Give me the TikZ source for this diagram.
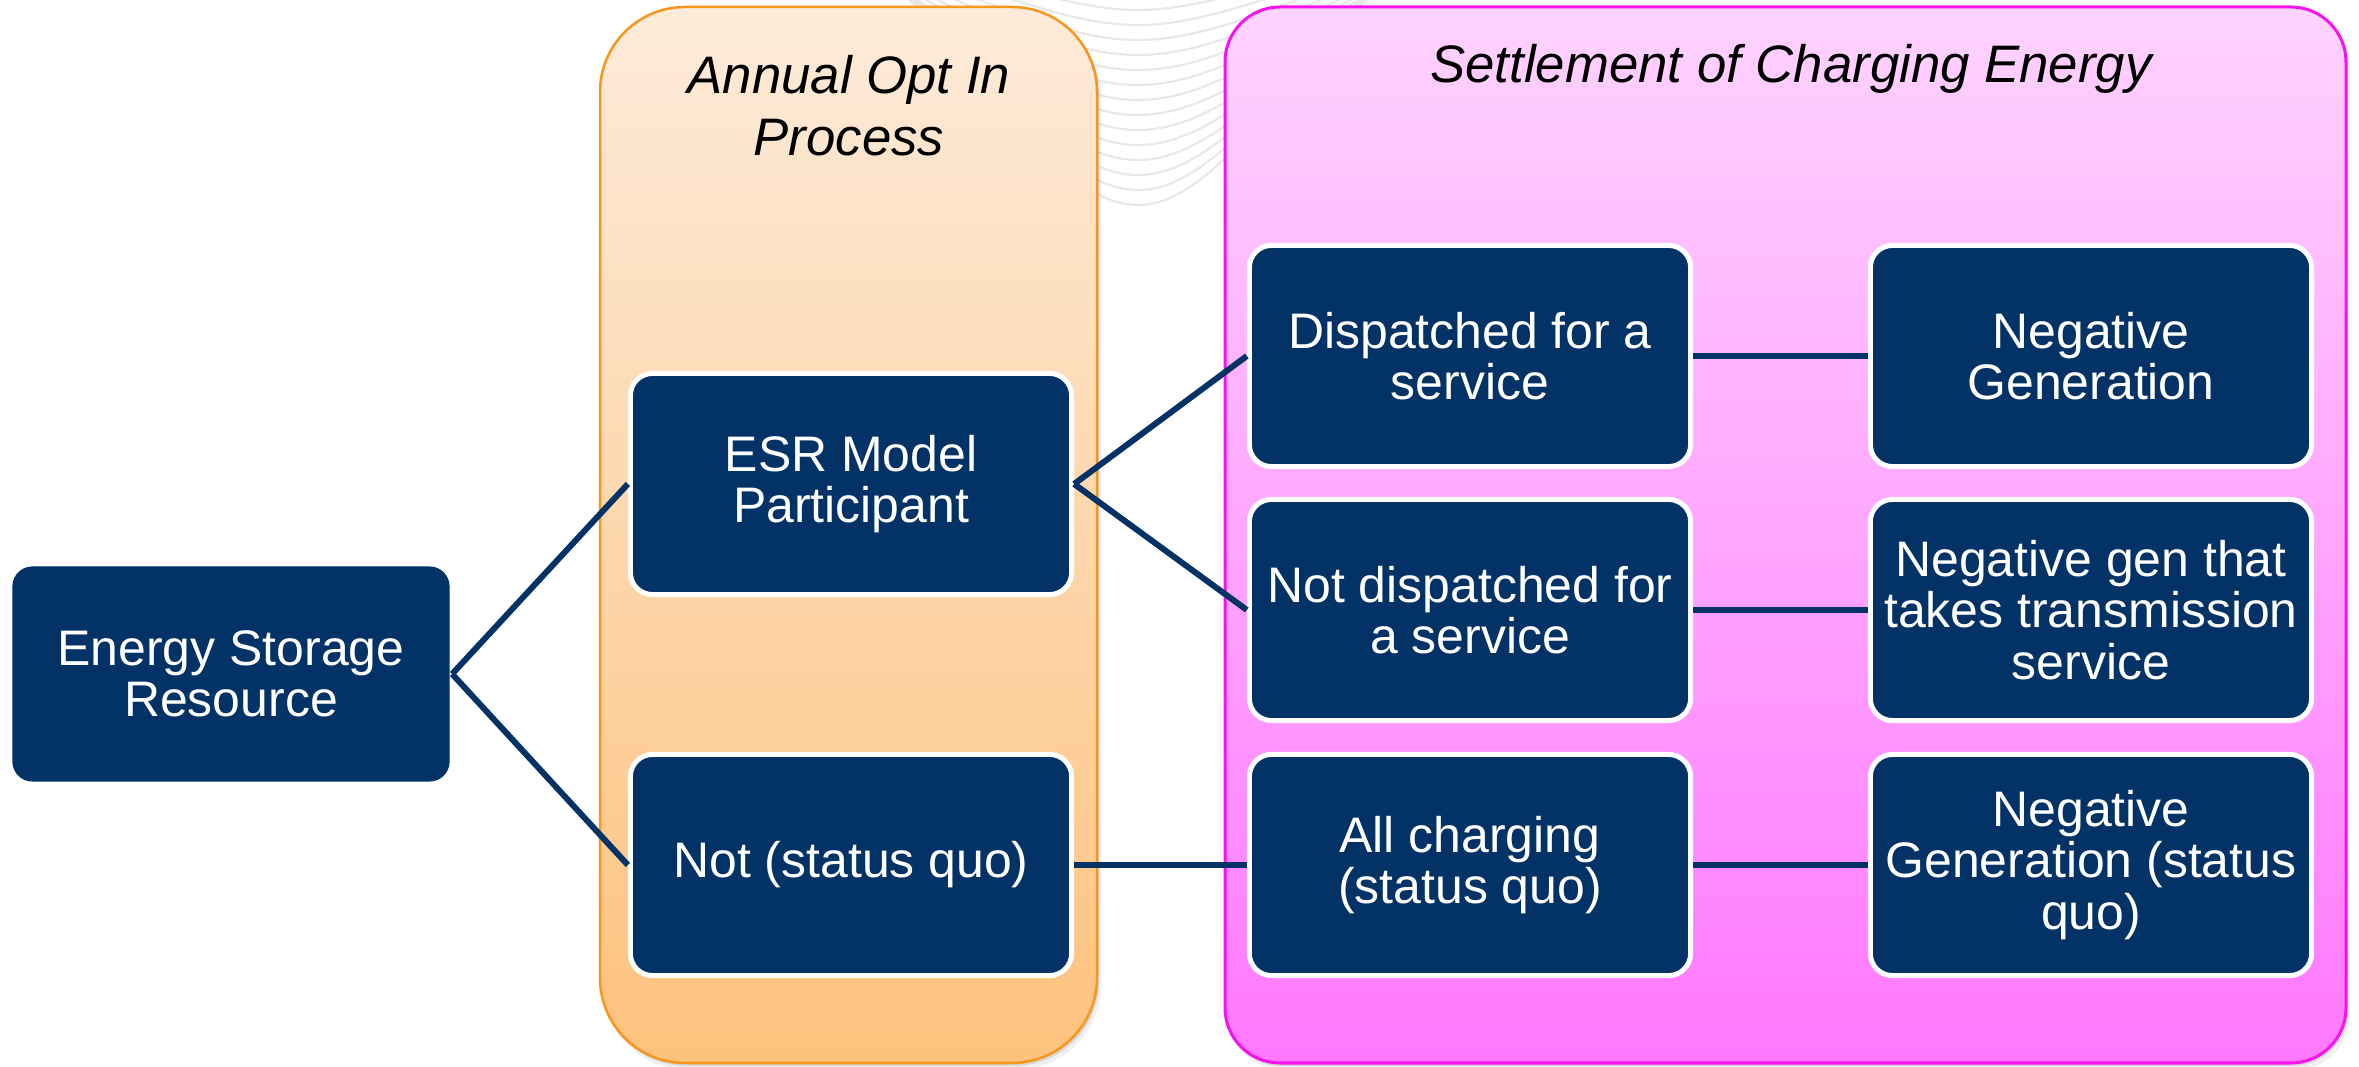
\documentclass[tikz,border=0pt]{standalone}
\usepackage{fontspec}
\setmainfont{Liberation Sans}
\definecolor{navy}{RGB}{3,51,102}
\definecolor{orangeTop}{HTML}{FDEBDA}
\definecolor{orangeBot}{HTML}{FDC27D}
\definecolor{orangeLine}{HTML}{F7961A}
\definecolor{pinkTop}{HTML}{FFD3FF}
\definecolor{pinkBot}{HTML}{FF78FF}
\definecolor{pinkLine}{HTML}{F812F0}
\definecolor{arcgray}{HTML}{E8E8E8}
\begin{document}
\begin{tikzpicture}[x=0.01cm,y=-0.01cm,
  box/.style={draw=white, line width=0.05cm, fill=navy, rounded corners=0.22cm,
    minimum width=4.41cm, minimum height=2.21cm, inner sep=0pt, align=center,
    text=white, font=\fontsize{14.2}{14.6}\selectfont},
  rootbox/.style={box, draw=none, minimum width=4.37cm, minimum height=2.15cm, rounded corners=0.2cm},
  link/.style={draw=navy, line width=1.7pt},
  title/.style={font=\fontsize{15}{17.6}\selectfont\itshape, align=center, text=black, inner sep=0pt},
  bgarc/.style={draw=arcgray, line width=0.6pt}]
\useasboundingbox (0,0) rectangle (2359,1067);
\clip (0,0) rectangle (2359,1067);
\fill[white] (0,0) rectangle (2359,1067);

% faint background arcs
\foreach \i in {0,...,13} {
  \pgfmathsetmacro{\yy}{10+15*\i}
  \pgfmathsetmacro{\kk}{0.0012+0.0029*(\yy/210)^2}
  \pgfmathsetmacro{\D}{min(420,sqrt(\yy+25)/sqrt(\kk))}
  \pgfmathsetmacro{\ye}{\yy-\kk*\D*\D}
  \pgfmathsetmacro{\yc}{(4*\yy-\ye)/3}
  \draw[bgarc] (1138-\D,\ye) .. controls (1138,\yc) .. (1138+\D,\ye);
}

% shadows
\fill[black,opacity=0.06,rounded corners=0.85cm] (603,12) rectangle (1101,1070);
\fill[black,opacity=0.10,rounded corners=0.85cm] (601,9) rectangle (1099,1066);
\fill[black,opacity=0.06,rounded corners=0.55cm] (1228,12) rectangle (2350,1070);
\fill[black,opacity=0.10,rounded corners=0.55cm] (1226,9) rectangle (2348,1066);

% containers
\path[rounded corners=0.85cm, top color=orangeTop, bottom color=orangeBot,
  draw=orangeLine, line width=0.025cm] (600,7) rectangle (1097,1063);
\path[rounded corners=0.55cm, top color=pinkTop, bottom color=pinkBot,
  draw=pinkLine, line width=0.03cm] (1225,7) rectangle (2346,1063);

% titles
\node[title] (ttl1) at (849,106) {Annual Opt In\\Process};
\node[title] (ttl2) at (1791,69) {Settlement of Charging Energy};

% boxes
\node[rootbox] (esr) at (231,674) {Energy Storage\\Resource};
\node[box] (esrm) at (851,484) {ESR Model\\Participant};
\node[box] (notsq) at (851,865) {Not (status quo)};
\node[box] (disp) at (1470,356) {Dispatched for a\\service};
\node[box] (notdisp) at (1470,610) {Not dispatched for\\a service};
\node[box] (allch) at (1470,865) {All charging\\(status quo)};
\node[box] (neg1) at (2091,356) {Negative\\Generation};
\node[box] (neg2) at (2091,610) {Negative gen that\\takes transmission\\service};
\node[box] (neg3) at (2091,865) {Negative\\Generation (status\\quo)};

% connectors
\draw[link] (esr.east) -- (esrm.west);
\draw[link] (esr.east) -- (notsq.west);
\draw[link] (esrm.east) -- (disp.west);
\draw[link] (esrm.east) -- (notdisp.west);
\draw[link] (notsq.east) -- (allch.west);
\draw[link] (disp.east) -- (neg1.west);
\draw[link] (notdisp.east) -- (neg2.west);
\draw[link] (allch.east) -- (neg3.west);
\end{tikzpicture}
\end{document}
